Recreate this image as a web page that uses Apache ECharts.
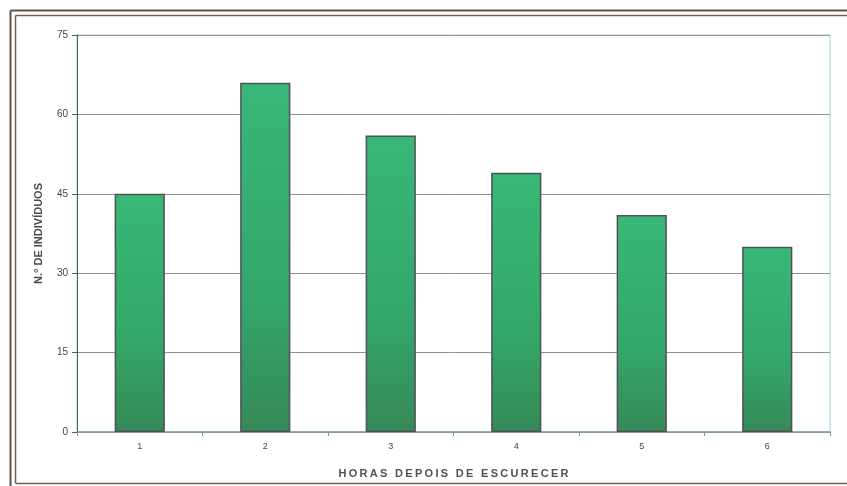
<!DOCTYPE html>
<html><head><meta charset="utf-8">
<script src="https://cdn.jsdelivr.net/npm/echarts@6/dist/echarts.min.js"></script>
<style>html,body{margin:0;padding:0;background:#fff}#c{width:847px;height:486px}</style>
</head><body><div id="c"></div>
<script>
const categories = ['1','2','3','4','5','6'];
const values = [45, 66, 56, 49, 41, 35];
const yTicks = [0, 15, 30, 45, 60, 75];
const yName = 'N.° DE INDIVÍDUOS';
const xName = 'HORAS DEPOIS DE ESCURECER';

// tracked (letter-spaced) drawing of the x axis title, char by char
const SPACING = 2.3;
const origFill = CanvasRenderingContext2D.prototype.fillText;
CanvasRenderingContext2D.prototype.fillText = function(t, x, y, m) {
  if (t === xName) {
    const chars = Array.from(t);
    const widths = chars.map(c => this.measureText(c).width);
    const total = widths.reduce((a,b)=>a+b,0) + SPACING*(chars.length-1);
    const align = this.textAlign;
    let start = x;
    if (align === 'center') start = x - total/2;
    else if (align === 'right' || align === 'end') start = x - total;
    this.textAlign = 'left';
    let cx = start;
    chars.forEach((c,i) => { origFill.call(this, c, cx, y); cx += widths[i] + SPACING; });
    this.textAlign = align;
    return;
  }
  return origFill.apply(this, arguments);
};

const chart = echarts.init(document.getElementById('c'), null, {renderer:'canvas'});
const font = 'Liberation Sans, Arial, sans-serif';
chart.setOption({
  animation:false,
  backgroundColor:'#fff',
  graphic:[
    {type:'line', shape:{x1:10.5,y1:10.5,x2:847,y2:10.5}, style:{stroke:'#5e5249',lineWidth:2}},
    {type:'line', shape:{x1:15.5,y1:15.5,x2:847,y2:15.5}, style:{stroke:'#6e6258',lineWidth:1.5}},
    {type:'line', shape:{x1:10.5,y1:10.5,x2:10.5,y2:486}, style:{stroke:'#5e5249',lineWidth:2}},
    {type:'line', shape:{x1:15.5,y1:15.5,x2:15.5,y2:483}, style:{stroke:'#6e6258',lineWidth:1.5}},
    {type:'line', shape:{x1:15.5,y1:483.5,x2:847,y2:483.5}, style:{stroke:'#6e6258',lineWidth:1.5}}
  ],
  grid:{left:77, right:17, top:35, bottom:54, show:true, borderColor:'#a9d2da', borderWidth:1},
  xAxis:{
    type:'category', data:categories,
    name:xName, nameLocation:'middle', nameGap:36,
    nameTextStyle:{fontFamily:font, fontSize:11, color:'#55504c', fontWeight:'bold'},
    axisLine:{lineStyle:{color:'#7f9aa2', width:1.5}},
    axisTick:{show:true, length:4, lineStyle:{color:'#7f9aa2'}},
    axisLabel:{fontFamily:font, fontSize:9, color:'#444', margin:10}
  },
  yAxis:{
    type:'value', min:0, max:75, interval:15,
    name:yName, nameLocation:'middle', nameGap:33, nameRotate:90,
    nameTextStyle:{fontFamily:font, fontSize:11, fontWeight:'bold', color:'#4a4a52'},
    axisLine:{show:true, lineStyle:{color:'#4d5c62', width:1}},
    axisTick:{show:true, length:5, lineStyle:{color:'#4d5c62'}},
    axisLabel:{fontFamily:font, fontSize:10, color:'#444', margin:9,
      formatter:v=> yTicks.includes(v) ? String(v) : ''},
    splitLine:{lineStyle:{color:'#8a9494', width:1}}
  },
  series:[{
    type:'bar', data:values, barWidth:'40%',
    itemStyle:{
      color:new echarts.graphic.LinearGradient(0,0,0,1,[
        {offset:0,color:'#38b878'},{offset:0.6,color:'#33a86a'},{offset:1,color:'#368a58'}]),
      borderColor:'#525252', borderWidth:1.5
    }
  }]
});
</script></body></html>
